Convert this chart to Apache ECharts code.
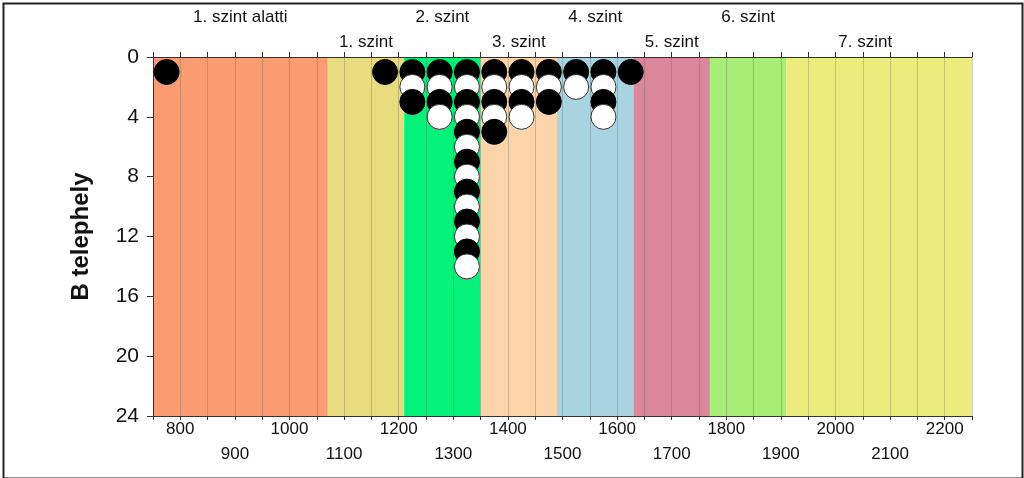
<!DOCTYPE html>
<html><head><meta charset="utf-8">
<script src="https://cdn.jsdelivr.net/npm/echarts@6/dist/echarts.min.js"></script>
<style>html,body{margin:0;padding:0;background:#fff}#c{width:1024px;height:478px}</style>
</head><body><div id="c"></div>
<script>
// Zone bands (x ranges) and their labels
const bandStart = [750, 1070, 1210, 1350, 1490, 1630, 1770, 1910];
const bandEnd   = [1070, 1210, 1350, 1490, 1630, 1770, 1910, 2250];
const bandNames = ['1. szint alatti', '1. szint', '2. szint', '3. szint', '4. szint', '5. szint', '6. szint', '7. szint'];
const bandRow   = [1, 2, 1, 2, 1, 2, 1, 2];
const bandColors = ['#FA9B72', '#E8DC7E', '#05F27A', '#FDD4AA', '#A8D4E2', '#DA879B', '#A8EE76', '#ECEC7C'];

// Stacked dots
const dotX = [775, 1175,
  1225, 1225, 1225,
  1275, 1275, 1275, 1275,
  1325, 1325, 1325, 1325, 1325, 1325, 1325, 1325, 1325, 1325, 1325, 1325, 1325, 1325,
  1375, 1375, 1375, 1375, 1375,
  1425, 1425, 1425, 1425,
  1475, 1475, 1475,
  1525, 1525,
  1575, 1575, 1575, 1575,
  1625];
const dotY = [1, 1,
  1, 2, 3,
  1, 2, 3, 4,
  1, 2, 3, 4, 5, 6, 7, 8, 9, 10, 11, 12, 13, 14,
  1, 2, 3, 4, 5,
  1, 2, 3, 4,
  1, 2, 3,
  1, 2,
  1, 2, 3, 4,
  1];
const dotFill = ['B', 'B',
  'B', 'W', 'B',
  'B', 'W', 'B', 'W',
  'B', 'W', 'B', 'W', 'B', 'W', 'B', 'W', 'B', 'W', 'B', 'W', 'B', 'W',
  'B', 'W', 'B', 'W', 'B',
  'B', 'W', 'B', 'W',
  'B', 'W', 'B',
  'B', 'W',
  'B', 'W', 'B', 'W',
  'B'];

// Tick labels
const xLabelsRow1 = [800, 1000, 1200, 1400, 1600, 1800, 2000, 2200];
const xLabelsRow2 = [900, 1100, 1300, 1500, 1700, 1900, 2100];
const yTickLabels = [0, 4, 8, 12, 16, 20, 24];
const yAxisName = 'B telephely';

const chart = echarts.init(document.getElementById('c'), null, {renderer: 'canvas'});
const font = 'Liberation Sans, Arial, sans-serif';

const areaData = bandStart.map((s, i) => [
  {
    xAxis: s,
    name: bandNames[i],
    itemStyle: {color: bandColors[i], opacity: 1},
    label: {
      show: true,
      position: 'top',
      distance: bandRow[i] === 1 ? 31 : 6,
      offset: i === bandStart.length - 1 ? [-14, 0] : [0, 0],
      color: '#111',
      fontSize: 17,
      fontFamily: font
    }
  },
  {xAxis: bandEnd[i]}
]);

const dots = dotX.map((x, i) => ({
  value: [x, dotY[i]],
  itemStyle: dotFill[i] === 'B'
    ? {color: '#000', borderColor: '#000', borderWidth: 1, opacity: 1}
    : {color: '#fff', borderColor: '#333', borderWidth: 1, opacity: 1}
}));

chart.setOption({
  animation: false,
  backgroundColor: '#fff',
  grid: {left: 153, top: 57, width: 819, height: 359, containLabel: false},
  graphic: [{
    type: 'rect', left: 1, top: 1, z: 100,
    shape: {x: 0, y: 0, width: 1019, height: 475},
    style: {fill: 'none', stroke: '#222', lineWidth: 2}
  }],
  xAxis: [{
    type: 'value', position: 'bottom', min: 750, max: 2250, interval: 50, z: 1.5,
    axisLine: {show: true, onZero: false, lineStyle: {color: '#333', width: 1}},
    axisTick: {show: true, inside: false, length: 4, lineStyle: {color: '#333'}},
    splitLine: {show: true, lineStyle: {color: 'rgba(90,90,90,0.3)', width: 1}},
    axisLabel: {
      show: true, margin: 1, color: '#111', fontSize: 17, fontFamily: font, lineHeight: 25,
      verticalAlign: 'top',
      formatter: v => xLabelsRow1.includes(v) ? String(v) : (xLabelsRow2.includes(v) ? '\n' + v : '')
    }
  }, {
    type: 'value', position: 'top', min: 750, max: 2250, interval: 50, z: 1.5,
    axisLine: {show: true, onZero: false, lineStyle: {color: '#333', width: 1}},
    axisTick: {show: true, inside: false, length: 5, lineStyle: {color: '#333'}},
    splitLine: {show: false},
    axisLabel: {show: false}
  }],
  yAxis: {
    type: 'value', inverse: true, min: 0, max: 24, interval: 4, z: 1.5,
    name: yAxisName, nameLocation: 'middle', nameGap: 60,
    nameTextStyle: {fontSize: 24, fontWeight: 'bold', color: '#111', fontFamily: font},
    axisLine: {show: true, onZero: false, lineStyle: {color: '#333', width: 1}},
    axisTick: {show: true, inside: false, length: 6, lineStyle: {color: '#333'}},
    splitLine: {show: false},
    axisLabel: {
      margin: 14, color: '#111', fontSize: 21, fontFamily: font,
      formatter: v => yTickLabels.includes(v) ? String(v) : ''
    }
  },
  series: [{
    type: 'scatter', name: 'bands', data: [], z: 1, silent: true,
    markArea: {silent: true, z: 1, data: areaData}
  }, {
    type: 'scatter', name: 'dots', z: 3,
    symbol: 'circle', symbolSize: 25,
    itemStyle: {opacity: 1},
    emphasis: {disabled: true},
    data: dots
  }]
});
</script>
</body></html>
